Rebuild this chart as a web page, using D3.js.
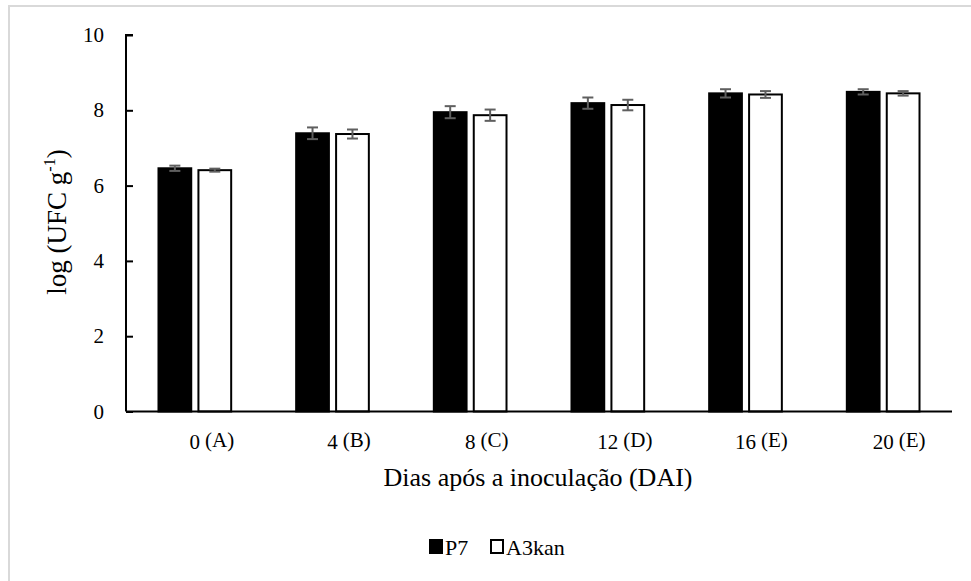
<!DOCTYPE html>
<html>
<head>
<meta charset="utf-8">
<script src="https://cdn.jsdelivr.net/npm/d3@7"></script>
<style>
  html, body { margin: 0; padding: 0; background: #fff; }
  svg { display: block; }
</style>
</head>
<body>
<svg id="chart" width="971" height="581" font-family="'Liberation Serif', 'DejaVu Serif', serif"></svg>
<script>
// Days after inoculation and the letter group for each day
const days = ["0", "4", "8", "12", "16", "20"];
const dayLetters = ["A", "B", "C", "D", "E", "E"];
const seriesNames = ["P7", "A3kan"];

// Mean log(UFC g-1) per day
const p7Values = [6.46, 7.39, 7.95, 8.19, 8.45, 8.49];
const a3kanValues = [6.41, 7.37, 7.87, 8.14, 8.42, 8.45];

// Standard errors
const p7Errors = [0.07, 0.155, 0.16, 0.15, 0.11, 0.07];
const a3kanErrors = [0.04, 0.12, 0.15, 0.14, 0.09, 0.06];

const yTicks = [0, 2, 4, 6, 8, 10];

const rows = days.map((d, i) => ({
  day: d,
  letter: dayLetters[i],
  bars: [
    { name: "P7", value: p7Values[i], err: p7Errors[i] },
    { name: "A3kan", value: a3kanValues[i], err: a3kanErrors[i] }
  ]
}));

const serif = "'Liberation Serif', 'DejaVu Serif', serif";
const svg = d3.select("#chart");
const fill = { P7: "#000", A3kan: "#fff" };

// Outer frame
svg.append("rect")
  .attr("x", 9).attr("y", 6)
  .attr("width", 1000).attr("height", 1000)
  .attr("fill", "none")
  .attr("stroke", "#d9d9d9")
  .attr("stroke-width", 2);

const plot = { left: 126, right: 952, top: 35, bottom: 411.5 };

const x0 = d3.scaleBand().domain(days).range([plot.left, plot.right]).padding(0);
const bw = x0.bandwidth();
const x1 = d3.scaleBand().domain(seriesNames)
  .range([bw * 0.236, bw * 0.764])
  .paddingInner(0.18);
const y = d3.scaleLinear().domain([0, 10]).range([plot.bottom, plot.top]);

// Bars
const groups = svg.append("g").selectAll("g")
  .data(rows).join("g")
  .attr("transform", d => `translate(${x0(d.day)},0)`);

groups.selectAll("rect")
  .data(d => d.bars).join("rect")
  .attr("x", d => x1(d.name))
  .attr("y", d => y(d.value))
  .attr("width", x1.bandwidth())
  .attr("height", d => y(0) - y(d.value))
  .attr("fill", d => fill[d.name])
  .attr("stroke", "#000")
  .attr("stroke-width", 2);

// Error bars
const eb = groups.selectAll("g.err")
  .data(d => d.bars).join("g")
  .attr("class", "err")
  .attr("stroke", "#5f5f5f")
  .attr("stroke-width", 2);
const cx = d => x1(d.name) + x1.bandwidth() / 2;
eb.append("line")
  .attr("x1", cx).attr("x2", cx)
  .attr("y1", d => y(d.value + d.err))
  .attr("y2", d => y(d.value - d.err));
eb.append("line")
  .attr("x1", d => cx(d) - 5.5).attr("x2", d => cx(d) + 5.5)
  .attr("y1", d => y(d.value + d.err)).attr("y2", d => y(d.value + d.err));
eb.append("line")
  .attr("x1", d => cx(d) - 5.5).attr("x2", d => cx(d) + 5.5)
  .attr("y1", d => y(d.value - d.err)).attr("y2", d => y(d.value - d.err));

// Y axis (ticks pointing into the plot)
const yAxis = svg.append("g")
  .attr("transform", `translate(${plot.left},0)`)
  .call(d3.axisRight(y).tickValues(yTicks).tickSize(7).tickFormat(""));
yAxis.select(".domain")
  .attr("d", `M7,${plot.top}H0V${plot.bottom}`)
  .attr("stroke", "#000").attr("stroke-width", 2);
yAxis.selectAll(".tick line").attr("stroke", "#000").attr("stroke-width", 2);

svg.append("g").selectAll("text")
  .data(yTicks).join("text")
  .attr("x", 104)
  .attr("y", d => y(d) + 7)
  .attr("text-anchor", "end")
  .attr("font-family", serif)
  .attr("font-size", 21)
  .text(d => d);

// X axis line
svg.append("line")
  .attr("x1", plot.left).attr("x2", plot.right)
  .attr("y1", plot.bottom).attr("y2", plot.bottom)
  .attr("stroke", "#000").attr("stroke-width", 2);

// X tick labels: day number centred on the group, letter appended
const xl = svg.append("g").selectAll("g")
  .data(rows).join("g")
  .attr("transform", d => `translate(${x0(d.day) + bw / 2},449)`);
xl.append("text")
  .attr("text-anchor", "middle")
  .attr("font-family", serif)
  .attr("font-size", 21)
  .text(d => d.day)
  .each(function (d) { d.halfW = this.getComputedTextLength() / 2; });
xl.append("text")
  .attr("x", d => d.halfW + 5)
  .attr("y", -2)
  .attr("font-family", serif)
  .attr("font-size", 21)
  .text(d => `(${d.letter})`);

// Axis titles
svg.append("text")
  .attr("x", 538).attr("y", 486)
  .attr("text-anchor", "middle")
  .attr("font-family", serif)
  .attr("font-size", 26)
  .text("Dias após a inoculação (DAI)");

const yt = svg.append("text")
  .attr("transform", "translate(66,222) rotate(-90)")
  .attr("text-anchor", "middle")
  .attr("font-family", serif)
  .attr("font-size", 27);
yt.append("tspan").text("log (UFC g");
yt.append("tspan").attr("font-size", 16).attr("dy", -11).text("-1");
yt.append("tspan").attr("dy", 11).text(")");

// Legend
const legend = svg.append("g").attr("transform", "translate(429,555)");
const items = [
  { name: "P7", x: 0, tx: 16 },
  { name: "A3kan", x: 61, tx: 77 }
];
items.forEach(it => {
  legend.append("rect")
    .attr("x", it.x + 1).attr("y", -15)
    .attr("width", 12).attr("height", 13)
    .attr("fill", fill[it.name])
    .attr("stroke", "#000").attr("stroke-width", 2);
  legend.append("text")
    .attr("x", it.tx).attr("y", 0)
    .attr("font-family", serif)
    .attr("font-size", 22)
    .text(it.name);
});
</script>
</body>
</html>
